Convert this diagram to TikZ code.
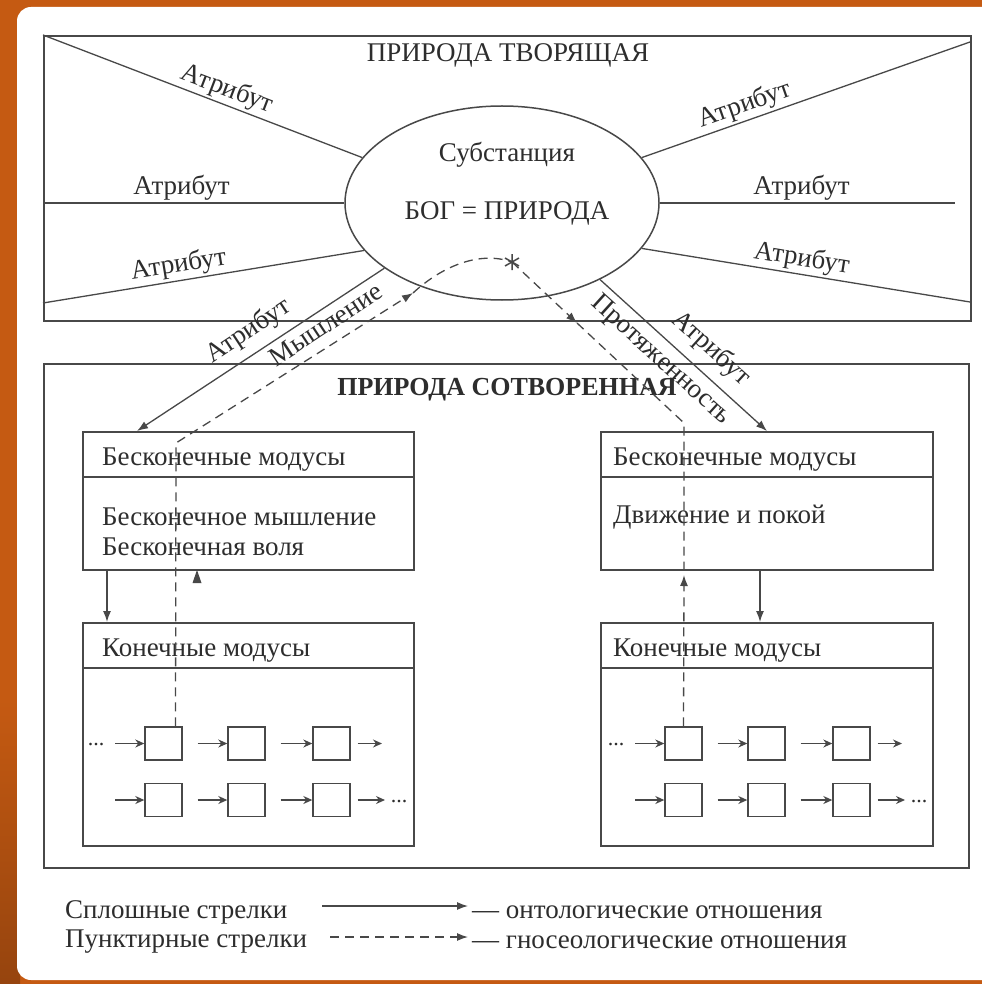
\documentclass[tikz,border=0pt]{standalone}
\usepackage{fontspec}
\setmainfont{Liberation Serif}
\usetikzlibrary{arrows.meta,shapes.geometric}
\definecolor{bgorange}{RGB}{197,90,18}
\definecolor{bgdark}{RGB}{150,68,14}
\definecolor{lncol}{RGB}{72,72,72}
\definecolor{txcol}{RGB}{45,45,45}
\begin{document}
\begin{tikzpicture}[x=1pt,y=-1pt,
  lbl/.style={font=\fontsize{27}{29}\selectfont, text=txcol, inner sep=2pt},
  ttl/.style={font=\fontsize{27}{29}\selectfont, text=txcol, inner sep=1pt},
  ttlb/.style={font=\bfseries\fontsize{26}{28}\selectfont, text=txcol, inner sep=1pt},
  thin/.style={draw=lncol, line width=1.3pt},
  frame/.style={draw=lncol, line width=1.8pt, inner sep=0pt},
  dsh/.style={draw=lncol, line width=1.3pt, dash pattern=on 9pt off 6pt},
  tip/.style={-{Latex[length=11pt,width=8pt]}},
  smtip/.style={-{Stealth[length=9pt,width=8pt]}},
  sq/.style={draw=lncol, line width=1.4pt, minimum width=37pt, minimum height=33pt, inner sep=0pt},
  dots/.style={font=\fontsize{22}{22}\selectfont, text=txcol, inner sep=0pt}
]
\useasboundingbox (0,0) rectangle (982,984);
\fill[bgorange] (0,0) rectangle (982,984);
\shade[top color=bgorange, bottom color=bgdark] (0,700) rectangle (20,984);
\fill[white, rounded corners=14pt] (17,7) rectangle (1010,980);

% ---------- Natura naturans ----------
\node[frame, anchor=north west, minimum width=927pt, minimum height=285pt] (TOP) at (43,35) {};
\node[ttl] (ttop) at (508,55) {ПРИРОДА ТВОРЯЩАЯ};

\node[ellipse, draw=lncol, line width=1.5pt, minimum width=314pt, minimum height=194pt, inner sep=0pt] (E) at (502,203) {};
\node[lbl] (subst) at (507,155) {Субстанция};
\node[lbl] (bog) at (507,213) {БОГ = ПРИРОДА};

\coordinate (l3) at (43,303);
\coordinate (r1) at (970,42);
\coordinate (r2) at (955,203);
\coordinate (r3) at (970,302);

\draw[thin] (TOP.north west) -- node[lbl, sloped, above, pos=0.56] (a1) {Атрибут} (E.162);
\draw[thin] (TOP.west |- E.180) -- node[lbl, above, pos=0.46] (a2) {Атрибут} (E.180);
\draw[thin] (l3) -- node[lbl, sloped, above, pos=0.43] (a3) {Атрибут} (E.199);
\draw[thin] (E.18) -- node[lbl, sloped, above, pos=0.33] (a4) {Атрибут} (r1);
\draw[thin] (E.0) -- node[lbl, above, pos=0.48] (a5) {Атрибут} (r2);
\draw[thin] (E.342) -- node[lbl, sloped, above, pos=0.48] (a6) {Атрибут} (r3);

% ---------- Natura naturata ----------
\node[frame, anchor=north west, minimum width=925pt, minimum height=504pt] (BOT) at (43,363) {};
\node[ttlb] (tbot) at (507,390) {ПРИРОДА СОТВОРЕННАЯ};

% left column
\node[frame, anchor=north west, minimum width=331pt, minimum height=138pt] (IML) at (82,431) {};
\draw[frame] ([yshift=-46pt]IML.north west) -- ([yshift=-46pt]IML.north east);
\node[lbl, anchor=west] (iml1) at (100,460) {Бесконечные модусы};
\node[lbl, anchor=west] (iml2) at (100,517) {Бесконечное мышление};
\node[lbl, anchor=west] (iml3) at (100,547) {Бесконечная воля};

\node[frame, anchor=north west, minimum width=331pt, minimum height=223pt] (FML) at (82,622) {};
\draw[frame] ([yshift=-46pt]FML.north west) -- ([yshift=-46pt]FML.north east);
\node[lbl, anchor=west] (fml1) at (100,651) {Конечные модусы};

\draw[thin, tip] ([xshift=25pt]IML.south west) -- ([xshift=25pt]FML.north west);

% right column
\node[frame, anchor=north west, minimum width=332pt, minimum height=138pt] (IMR) at (600,431) {};
\draw[frame] ([yshift=-46pt]IMR.north west) -- ([yshift=-46pt]IMR.north east);
\node[lbl, anchor=west] (imr1) at (611,460) {Бесконечные модусы};
\node[lbl, anchor=west] (imr2) at (611,517) {Движение и покой};

\node[frame, anchor=north west, minimum width=332pt, minimum height=223pt] (FMR) at (600,622) {};
\draw[frame] ([yshift=-46pt]FMR.north west) -- ([yshift=-46pt]FMR.north east);
\node[lbl, anchor=west] (fmr1) at (611,651) {Конечные модусы};

\draw[thin, tip] ([xshift=160pt]IMR.south west) -- ([xshift=160pt]FMR.north west);

% attribute arrows from substance
\draw[thin, tip] (E.209) -- node[lbl, sloped, above=7pt, pos=0.5] (at1) {Атрибут}
   node[lbl, sloped, below=3pt, pos=0.27] (mysh) {Мышление} ([xshift=55pt]IML.north west);
\draw[thin, tip] (E.-38) -- node[lbl, sloped, above=8pt, pos=0.57] (at2) {Атрибут}
   node[lbl, sloped, below=5pt, pos=0.44] (prot) {Протяженность} ([xshift=167pt]IMR.north west);

% ---------- finite modes rows ----------
\foreach \side/\dx in {L/0,R/520}{
  \node[sq] (\side11) at (163.5+\dx,743.5) {};
  \node[sq] (\side12) at (246.5+\dx,743.5) {};
  \node[sq] (\side13) at (331.5+\dx,743.5) {};
  \node[sq] (\side21) at (163.5+\dx,800) {};
  \node[sq] (\side22) at (246.5+\dx,800) {};
  \node[sq] (\side23) at (331.5+\dx,800) {};
  \coordinate (\side s1) at (115+\dx,743.5);
  \coordinate (\side s2) at (115+\dx,800);
  \coordinate (\side e1) at (382+\dx,743.5);
  \coordinate (\side e2) at (385+\dx,800);
  \draw[thin, smtip] (\side s1) -- (\side11.west);
  \draw[thin, smtip] ([xshift=15pt]\side11.east) -- (\side12.west);
  \draw[thin, smtip] ([xshift=15pt]\side12.east) -- (\side13.west);
  \draw[thin, smtip] ([xshift=7pt]\side13.east) -- (\side e1);
  \draw[thin, smtip] (\side s2) -- (\side21.west);
  \draw[thin, smtip] ([xshift=15pt]\side21.east) -- (\side22.west);
  \draw[thin, smtip] ([xshift=15pt]\side22.east) -- (\side23.west);
  \draw[thin, smtip] ([xshift=7pt]\side23.east) -- (\side e2);
  \node[dots] (\side d1) at (96+\dx,745) {...};
  \node[dots] (\side d2) at (399+\dx,802) {...};
}

% ---------- gnoseological (dashed) path ----------
\coordinate (star) at (512,262);
\coordinate (dA) at (413,293);
\coordinate (dB) at (577,323);
\coordinate (dR) at (684,575);
\draw[dsh, tip] ([xshift=12pt]L11.north) -- (176,443) -- (dA);
\draw[dsh] (dA) .. controls (440,268) and (478,250) .. (star);
\draw[dsh, tip] (star) -- (dB);
\draw[dsh] (dB) -- (684,423) -- (dR);
\draw[dsh, tip] (R11.north) -- (dR);
\draw[lncol, line width=1.5pt] ([shift={(0,-8)}]star) -- ([shift={(0,8)}]star)
  ([shift={(-7,-4)}]star) -- ([shift={(7,4)}]star)
  ([shift={(-7,4)}]star) -- ([shift={(7,-4)}]star);
\fill[lncol] (197,570) -- (192.5,583) -- (201.5,583) -- cycle;

% ---------- legend ----------
\node[lbl, anchor=west] (lg1) at (63,912) {Сплошные стрелки};
\node[lbl, anchor=west] (lg2) at (63,942) {Пунктирные стрелки};
\coordinate (ls1) at (322,906);
\coordinate (le1) at (468,906);
\coordinate (ls2) at (330,937);
\coordinate (le2) at (468,937);
\draw[thin, tip] (ls1) -- (le1);
\draw[dsh, tip] (ls2) -- (le2);
\node[lbl, anchor=west] (lt1) at (470,912) {— онтологические отношения};
\node[lbl, anchor=west] (lt2) at (470,942) {— гносеологические отношения};
\end{tikzpicture}
\end{document}
